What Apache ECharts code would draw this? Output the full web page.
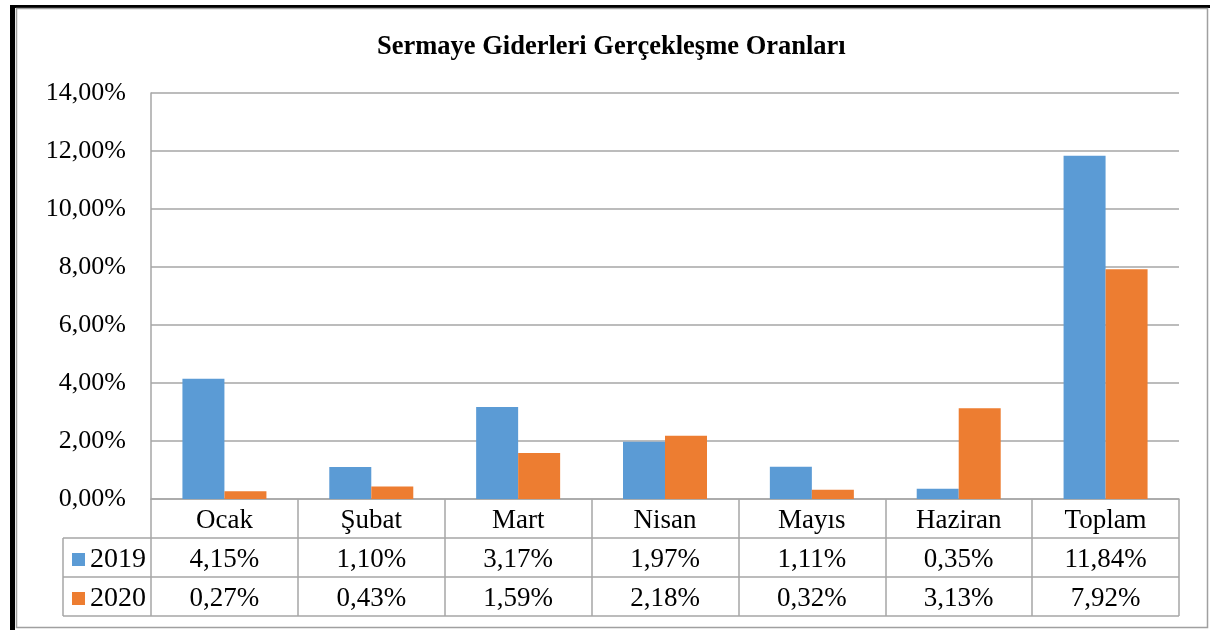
<!DOCTYPE html>
<html>
<head>
<meta charset="utf-8">
<script src="https://cdn.jsdelivr.net/npm/echarts@6/dist/echarts.min.js"></script>
<style>
  html, body { margin: 0; padding: 0; background: #fff; }
  #main { width: 1210px; height: 630px; }
</style>
</head>
<body>
<div id="main"></div>
<script>
// veriler
const months = ['Ocak', 'Şubat', 'Mart', 'Nisan', 'Mayıs', 'Haziran', 'Toplam'];
const seriesNames = ['2019', '2020'];
const values2019 = [4.15, 1.10, 3.17, 1.97, 1.11, 0.35, 11.84];
const values2020 = [0.27, 0.43, 1.59, 2.18, 0.32, 3.13, 7.92];
const yTicks = { min: 0, max: 14, interval: 2 };

const fmt = v => v.toFixed(2).replace('.', ',') + '%';
const serif = '"Liberation Serif", "Times New Roman", serif';

// yerlesim
const gridLeft = 151, gridRight = 31, gridTop = 93, gridBottom = 131;
const rowH = 39;
const tableLeft = 63;
const lineGrey = '#a6a6a6';

const chartDom = document.getElementById('main');
const myChart = echarts.init(chartDom);

const baseY = 630 - gridBottom;
const tableRight = 1210 - gridRight;

const option = {
  backgroundColor: '#fff',
  animation: false,
  title: {
    text: 'Sermaye Giderleri Gerçekleşme Oranları',
    left: 372,
    top: 29,
    textStyle: { fontFamily: serif, fontSize: 26.5, fontWeight: 'bold', color: '#000' }
  },
  legend: {
    orient: 'vertical',
    left: 72,
    top: baseY + rowH + 2,
    padding: 0,
    itemWidth: 13,
    itemHeight: 13,
    itemGap: 0,
    icon: 'rect',
    data: seriesNames,
    textStyle: { fontFamily: serif, fontSize: 28, color: '#000', lineHeight: rowH }
  },
  grid: { left: gridLeft, right: gridRight, top: gridTop, bottom: gridBottom },
  xAxis: {
    type: 'category',
    data: months,
    axisLine: { lineStyle: { color: lineGrey, width: 1.5 } },
    axisTick: { show: true, interval: 0, length: rowH * 3, lineStyle: { color: lineGrey, width: 1.5 } },
    axisLabel: {
      interval: 0,
      margin: 2,
      fontFamily: serif,
      fontSize: 27,
      color: '#000',
      lineHeight: rowH,
      formatter: function (value, idx) {
        return value + '\n' + fmt(values2019[idx]) + '\n' + fmt(values2020[idx]);
      }
    }
  },
  yAxis: {
    type: 'value',
    min: yTicks.min,
    max: yTicks.max,
    interval: yTicks.interval,
    axisLine: { show: true, lineStyle: { color: lineGrey, width: 1.5 } },
    axisTick: { show: false },
    splitLine: { lineStyle: { color: lineGrey, width: 1.5 } },
    axisLabel: {
      margin: 25,
      fontFamily: serif,
      fontSize: 26,
      color: '#000',
      formatter: v => fmt(v)
    }
  },
  series: [
    {
      name: seriesNames[0],
      type: 'bar',
      data: values2019,
      barWidth: 42,
      barGap: '0%',
      itemStyle: { color: '#5B9BD5' }
    },
    {
      name: seriesNames[1],
      type: 'bar',
      data: values2020,
      barWidth: 42,
      itemStyle: { color: '#ED7D31' }
    }
  ],
  graphic: [
    // dis cerceve
    { type: 'rect', shape: { x: 10, y: 5, width: 1200, height: 3 }, style: { fill: '#000' }, silent: true },
    { type: 'rect', shape: { x: 10, y: 5, width: 5, height: 625 }, style: { fill: '#000' }, silent: true },
    { type: 'rect', shape: { x: 16.5, y: 8.5, width: 1191, height: 619 }, style: { fill: 'none', stroke: '#a0a0a0', lineWidth: 1.5 }, silent: true },
    // tablo cizgileri
    { type: 'line', shape: { x1: tableLeft, y1: baseY + rowH, x2: tableRight, y2: baseY + rowH }, style: { stroke: lineGrey, lineWidth: 1.5 }, silent: true },
    { type: 'line', shape: { x1: tableLeft, y1: baseY + rowH * 2, x2: tableRight, y2: baseY + rowH * 2 }, style: { stroke: lineGrey, lineWidth: 1.5 }, silent: true },
    { type: 'line', shape: { x1: tableLeft, y1: baseY + rowH * 3, x2: tableRight, y2: baseY + rowH * 3 }, style: { stroke: lineGrey, lineWidth: 1.5 }, silent: true },
    { type: 'line', shape: { x1: tableLeft, y1: baseY + rowH, x2: tableLeft, y2: baseY + rowH * 3 }, style: { stroke: lineGrey, lineWidth: 1.5 }, silent: true }
  ]
};
myChart.setOption(option);
</script>
</body>
</html>
